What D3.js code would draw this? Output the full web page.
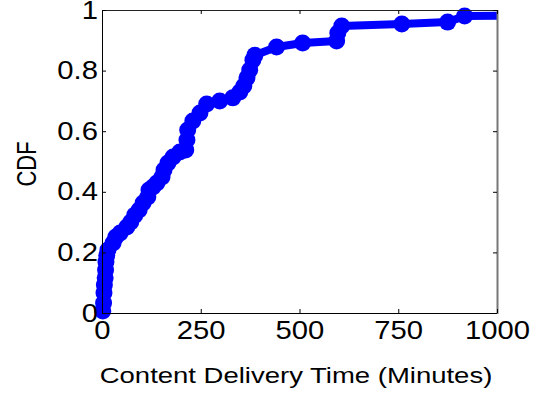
<!DOCTYPE html>
<html>
<head>
<meta charset="utf-8">
<script src="https://cdn.jsdelivr.net/npm/d3@7/dist/d3.min.js"></script>
<style>
  html, body { margin: 0; padding: 0; background: #fff; }
  svg { display: block; font-family: "Liberation Sans", Arial, sans-serif; }
</style>
</head>
<body>
<svg id="chart" width="548" height="396"></svg>
<script>
// Delivery times (minutes) and their empirical CDF values, sorted by time
const deliveryMinutes = [2, 4, 5, 6, 8, 9, 10, 12, 15, 28, 35, 46, 63, 73, 83, 94, 104, 116, 119, 129,
  139, 152, 157, 167, 180, 197, 212, 215, 217, 230, 248, 265, 298, 331, 349, 359, 367, 374, 382, 387,
  442, 508, 594, 597, 607, 759, 875, 918, 1150];
const cdfValues = [0.007, 0.033, 0.066, 0.092, 0.116, 0.142, 0.168, 0.190, 0.208, 0.231, 0.251, 0.264,
  0.284, 0.300, 0.323, 0.340, 0.363, 0.383, 0.406, 0.416, 0.429, 0.449, 0.472, 0.495, 0.515, 0.531,
  0.538, 0.571, 0.604, 0.634, 0.660, 0.690, 0.700, 0.710, 0.729, 0.749, 0.776, 0.802, 0.835, 0.851,
  0.878, 0.891, 0.898, 0.924, 0.947, 0.954, 0.960, 0.980, 0.982];

const xTicks = [0, 250, 500, 750, 1000];
const xTickLabels = ["0", "250", "500", "750", "1000"];
const yTicks = [0, 0.2, 0.4, 0.6, 0.8, 1];
const yTickLabels = ["0", "0.2", "0.4", "0.6", "0.8", "1"];

const xTitle = "Content Delivery Time (Minutes)";
const yTitle = "CDF";

const svg = d3.select("#chart");
const plotLeft = 102, plotRight = 497, plotTop = 10, plotBottom = 313;
const x = d3.scaleLinear().domain([0, 1000]).range([plotLeft, plotRight]);
const y = d3.scaleLinear().domain([0, 1]).range([plotBottom, plotTop]);

const points = deliveryMinutes.map((t, i) => ({ t, p: cdfValues[i] }));
const blue = "#0000ff";
const stretch = 1.17;

svg.append("clipPath").attr("id", "plotClip")
  .append("rect").attr("x", plotLeft).attr("y", plotTop - 10)
  .attr("width", plotRight - plotLeft).attr("height", plotBottom - plotTop + 20);

// CDF curve
svg.append("path")
  .datum(points)
  .attr("clip-path", "url(#plotClip)")
  .attr("fill", "none")
  .attr("stroke", blue)
  .attr("stroke-width", 8)
  .attr("stroke-linejoin", "round")
  .attr("stroke-linecap", "round")
  .attr("d", d3.line().x(d => x(d.t)).y(d => y(d.p)));

// point markers
svg.append("g").selectAll("circle")
  .data(points.filter(d => d.t <= 1000))
  .join("circle")
  .attr("cx", d => x(d.t))
  .attr("cy", d => y(d.p))
  .attr("r", 8.5)
  .attr("fill", blue);

// axes box
svg.append("line").attr("x1", plotLeft).attr("x2", plotRight).attr("y1", plotBottom + 0.5).attr("y2", plotBottom + 0.5)
  .attr("stroke", "#000");
svg.append("line").attr("x1", plotLeft + 0.5).attr("x2", plotLeft + 0.5).attr("y1", plotTop).attr("y2", plotBottom)
  .attr("stroke", "#000");
svg.append("line").attr("x1", plotLeft).attr("x2", plotRight).attr("y1", plotTop + 0.5).attr("y2", plotTop + 0.5)
  .attr("stroke", "#222");
svg.append("line").attr("x1", plotRight + 0.5).attr("x2", plotRight + 0.5).attr("y1", plotTop).attr("y2", plotBottom + 1)
  .attr("stroke", "#777").attr("stroke-width", 2);

// ticks (inward) and labels
const xAxis = svg.append("g").attr("transform", `translate(0,${plotBottom})`)
  .call(d3.axisBottom(x).tickValues(xTicks).tickSize(-4).tickSizeOuter(0).tickPadding(8)
    .tickFormat((d, i) => xTickLabels[i]));
const yAxis = svg.append("g").attr("transform", `translate(${plotLeft},0)`)
  .call(d3.axisLeft(y).tickValues(yTicks).tickSize(-4).tickSizeOuter(0).tickPadding(3.5)
    .tickFormat((d, i) => yTickLabels[i]));
svg.append("g").attr("transform", `translate(0,${plotTop})`)
  .call(d3.axisTop(x).tickValues(xTicks).tickSize(-4).tickSizeOuter(0).tickFormat(""));
svg.append("g").attr("transform", `translate(${plotRight},0)`)
  .call(d3.axisRight(y).tickValues(yTicks).tickSize(-4).tickSizeOuter(0).tickFormat(""));

svg.selectAll(".domain").remove();
svg.selectAll(".tick line").attr("stroke", "#000");
[xAxis, yAxis].forEach(g => g.selectAll("text")
  .attr("font-family", "'Liberation Sans', Arial, sans-serif")
  .attr("font-size", 25)
  .attr("fill", "#000")
  .attr("transform", `scale(${stretch},1)`));

// axis titles
svg.append("text")
  .attr("transform", `translate(296,383) scale(1.25,1)`)
  .attr("text-anchor", "middle")
  .attr("font-size", 22)
  .attr("fill", "#000")
  .text(xTitle);

svg.append("text")
  .attr("transform", `translate(36,164) scale(1.25,1) rotate(-90)`)
  .attr("text-anchor", "middle")
  .attr("font-size", 22)
  .attr("fill", "#000")
  .text(yTitle);
</script>
</body>
</html>
